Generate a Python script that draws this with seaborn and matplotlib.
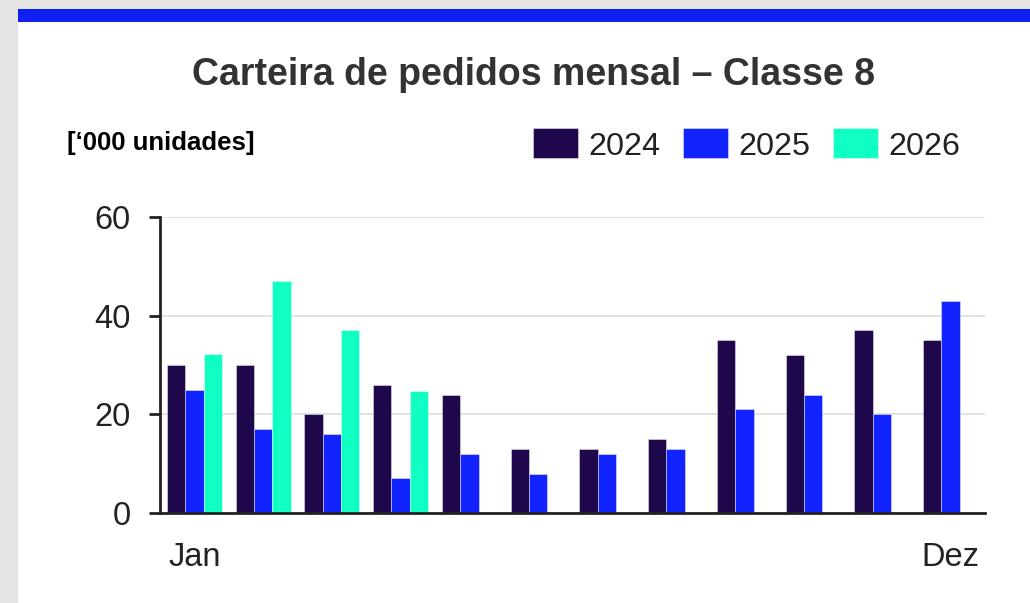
import numpy as np
import pandas as pd
import matplotlib
matplotlib.use('Agg')
import matplotlib.pyplot as plt
from matplotlib.patches import Rectangle
import seaborn as sns

meses = ['Jan', 'Fev', 'Mar', 'Abr', 'Mai', 'Jun', 'Jul', 'Ago', 'Set', 'Out', 'Nov', 'Dez']
anos = ['2024', '2025', '2026']
v2024 = [30, 30, 20, 26, 24, 13, 13, 15, 35, 32, 37, 35]
v2025 = [25, 17, 16, 7, 12, 8, 12, 13, 21, 24, 20, 43]
v2026 = [32.3, 47.1, 37.1, 24.7, np.nan, np.nan, np.nan, np.nan, np.nan, np.nan, np.nan, np.nan]
rotulos_x = ['Jan', '', '', '', '', '', '', '', '', '', '', 'Dez']
cores = ['#1e074b', '#1123ff', '#10ffc2']

df = pd.DataFrame({
    'mes': meses * 3,
    'ano': [anos[0]] * 12 + [anos[1]] * 12 + [anos[2]] * 12,
    'valor': v2024 + v2025 + v2026,
})

sns.set_style('white')
plt.rcParams['font.family'] = ['Liberation Sans', 'DejaVu Sans']

fig = plt.figure(figsize=(10.3, 6.03), dpi=100)
fig.patch.set_facecolor('#e4e4e4')
# painel branco e barra azul no topo
fig.patches.append(Rectangle((18 / 1030, 0), 1, 1 - 22 / 603, transform=fig.transFigure,
                             facecolor='white', edgecolor='none', zorder=-10))
fig.patches.append(Rectangle((18 / 1030, 1 - 22 / 603), 1, 13 / 603, transform=fig.transFigure,
                             facecolor='#1020f5', edgecolor='none', zorder=-10))

ax = fig.add_axes([160 / 1030, 1 - 513 / 603, 825 / 1030, 296 / 603])
ax.set_facecolor('white')
sns.barplot(data=df, x='mes', y='valor', hue='ano', order=meses, hue_order=anos,
            palette=cores, width=0.8, saturation=1, edgecolor='#ffffff80', linewidth=0.6,
            ax=ax)

ax.set_ylim(0, 60)
ax.set_yticks([0, 20, 40, 60])
ax.yaxis.grid(True, color='#dddddd', linewidth=1.2)
ax.set_axisbelow(True)
ax.set_xticks(range(12))
ax.set_xticklabels(rotulos_x)
ax.set_xlabel('')
ax.set_ylabel('')
ax.tick_params(axis='x', length=0, pad=21, labelsize=23.5, labelcolor='#222222')
ax.tick_params(axis='y', length=8, width=2, color='#222222', pad=13, labelsize=23.5,
               labelcolor='#222222', left=True)
for s in ['top', 'right']:
    ax.spines[s].set_visible(False)
for s in ['left', 'bottom']:
    ax.spines[s].set_color('#222222')
    ax.spines[s].set_linewidth(2)

ax.legend(loc='center right', bbox_to_anchor=(960 / 1030, 1 - 145 / 603),
          bbox_transform=fig.transFigure, ncol=3, frameon=False, fontsize=23.3,
          handlelength=1.39, handleheight=1.05, handletextpad=0.31, columnspacing=0.71,
          borderaxespad=0, borderpad=0)
for t in ax.get_legend().get_texts():
    t.set_color('#222222')

fig.text(533 / 1030, 1 - 85 / 603, 'Carteira de pedidos mensal \u2013 Classe 8',
         ha='center', va='baseline', fontsize=27, fontweight='bold', color='#333333')
fig.text(67 / 1030, 1 - 150 / 603, '[\u2018000 unidades]', ha='left', va='baseline',
         fontsize=18.5, fontweight='bold', color='black')

fig.savefig('out.png', dpi=100, facecolor=fig.get_facecolor())
